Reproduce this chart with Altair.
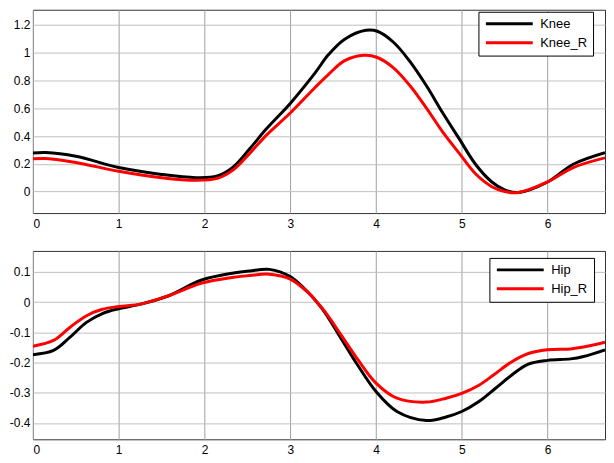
import altair as alt
import pandas as pd

# Knee panel
knee_x = [0, 0.15, 0.5, 1.0, 1.5, 1.9, 2.15, 2.34, 2.53, 2.72, 3.0, 3.29, 3.444, 3.635, 3.883, 4.016, 4.207, 4.397, 4.588, 4.779, 4.969, 5.16, 5.351, 5.5, 5.66, 6.0, 6.3, 6.67]
knee = [0.277, 0.281, 0.254, 0.173, 0.123, 0.100, 0.112, 0.18, 0.31, 0.45, 0.635, 0.855, 0.985, 1.098, 1.162, 1.155, 1.074, 0.936, 0.762, 0.566, 0.381, 0.197, 0.069, 0.012, -0.007, 0.069, 0.197, 0.28]
knee_r_x = [0, 0.15, 0.5, 1.0, 1.5, 1.9, 2.15, 2.34, 2.53, 2.72, 3.0, 3.29, 3.444, 3.635, 3.86, 4.016, 4.207, 4.397, 4.588, 4.779, 4.969, 5.16, 5.351, 5.5, 5.66, 6.0, 6.3, 6.67]
knee_r = [0.236, 0.238, 0.21, 0.146, 0.100, 0.081, 0.095, 0.158, 0.277, 0.405, 0.566, 0.75, 0.843, 0.943, 0.982, 0.966, 0.89, 0.762, 0.601, 0.428, 0.277, 0.128, 0.035, 0.0, -0.007, 0.069, 0.173, 0.243]

# Hip panel
hip_x = [0, 0.24, 0.43, 0.62, 0.81, 1.0, 1.27, 1.575, 1.96, 2.34, 2.529, 2.757, 3.0, 3.215, 3.31, 3.405, 3.596, 3.787, 4.0, 4.244, 4.588, 4.817, 5.0, 5.2, 5.39, 5.58, 5.77, 6.0, 6.27, 6.42, 6.67]
hip = [-0.174, -0.16, -0.117, -0.068, -0.038, -0.022, -0.006, 0.02, 0.072, 0.096, 0.103, 0.108, 0.084, 0.030, 0.0, -0.035, -0.122, -0.209, -0.296, -0.362, -0.392, -0.380, -0.362, -0.329, -0.286, -0.242, -0.206, -0.193, -0.188, -0.180, -0.158]
hip_r = [-0.146, -0.127, -0.084, -0.046, -0.024, -0.015, -0.006, 0.02, 0.062, 0.082, 0.088, 0.092, 0.076, 0.030, 0.0, -0.032, -0.110, -0.190, -0.268, -0.318, -0.331, -0.318, -0.302, -0.275, -0.237, -0.198, -0.171, -0.158, -0.155, -0.149, -0.133]

x_ticks = [0, 1, 2, 3, 4, 5, 6]
knee_ticks = [0, 0.2, 0.4, 0.6, 0.8, 1, 1.2]
hip_ticks = [-0.4, -0.3, -0.2, -0.1, 0, 0.1]

FONT = "Liberation Sans"
label_expr = "datum.value < 0 ? '-' + format(-datum.value, '~g') : format(datum.value, '~g')"


def frame(x1, y1, x2, y2, names):
    rows = [{"x": x, "v": v, "s": names[0]} for x, v in zip(x1, y1)]
    rows += [{"x": x, "v": v, "s": names[1]} for x, v in zip(x2, y2)]
    return pd.DataFrame(rows)


def panel(df, names, ydom, yticks, h, lx, ly):
    return alt.Chart(df).mark_line(strokeWidth=3, interpolate="catmull-rom", clip=True).encode(
        x=alt.X("x:Q", scale=alt.Scale(domain=[0, 6.67], nice=False, zero=False),
                axis=alt.Axis(values=x_ticks, title=None, labelExpr=label_expr, grid=True,
                              gridColor="#a0a0a0", domain=False, ticks=False, tickSize=0,
                              labelPadding=5, labelFontSize=12, labelFont=FONT, labelColor="#000")),
        y=alt.Y("v:Q", scale=alt.Scale(domain=ydom, nice=False, zero=False),
                axis=alt.Axis(values=yticks, title=None, labelExpr=label_expr, grid=True,
                              gridColor="#c0c0c0", domain=False, ticks=False, tickSize=0,
                              labelPadding=3, labelFontSize=12, labelFont=FONT, labelColor="#000")),
        color=alt.Color("s:N", scale=alt.Scale(domain=names, range=["#000000", "#ff0000"]),
                        legend=alt.Legend(title=None, orient="none", legendX=lx, legendY=ly,
                                          symbolType="stroke", symbolSize=2209, symbolStrokeWidth=3,
                                          clipHeight=12, rowPadding=6, padding=6, labelOffset=6,
                                          fillColor="white", strokeColor="#000",
                                          labelFont=FONT, labelFontSize=13, labelColor="#000")),
        detail="s:N",
    ).properties(width=574, height=h)


top = panel(frame(knee_x, knee, knee_r_x, knee_r, ["Knee", "Knee_R"]), ["Knee", "Knee_R"],
            [-0.155, 1.31], knee_ticks, 204, 447, 2)
bottom = panel(frame(hip_x, hip, hip_x, hip_r, ["Hip", "Hip_R"]), ["Hip", "Hip_R"],
               [-0.454, 0.169], hip_ticks, 189, 458, 7)

chart = alt.vconcat(top, bottom, spacing=20).resolve_scale(color="independent").resolve_legend(
    color="independent"
).properties(padding=0, background="white").configure_view(
    stroke="#333333", strokeWidth=1
)

chart.save("out.html", embed_options={"renderer": "svg", "actions": False})
